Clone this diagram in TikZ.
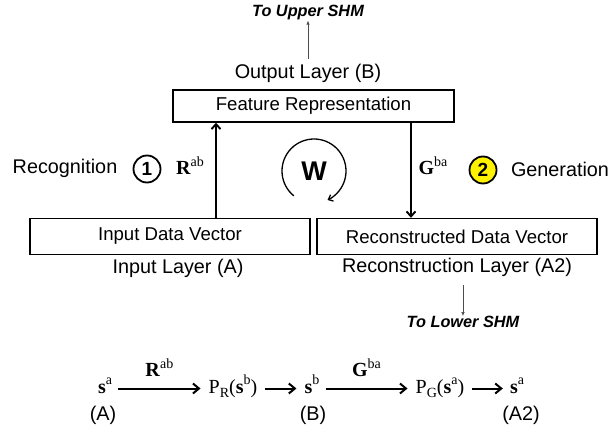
\documentclass[tikz,border=0pt]{standalone}
\usepackage{fontspec}
\usepackage{graphicx}
\setmainfont{Liberation Sans}
\newfontfamily\serf{Liberation Serif}
\usetikzlibrary{arrows.meta,calc}
\newcommand\mysup[1]{\raisebox{0.42em}{\fontsize{14pt}{14pt}\selectfont #1}}
\newcommand\mysub[1]{\raisebox{-0.22em}{\fontsize{14pt}{14pt}\selectfont #1}}
\begin{document}
\begin{tikzpicture}[x=1pt,y=-1pt,
  box/.style={draw,line width=1.4pt,inner sep=0pt,font=\fontsize{18.6pt}{19pt}\selectfont},
  lbl/.style={inner sep=0pt,font=\fontsize{19.8pt}{20pt}\selectfont},
  shm/.style={inner sep=0pt,font=\fontsize{16.3pt}{16pt}\selectfont\bfseries\itshape},
  thin/.style={draw=black!70,line width=0.7pt,-{Latex[length=4pt,width=3.5pt]}},
  big/.style={line width=1.9pt,-{Straight Barb[length=5pt,width=9pt,line width=1.9pt]}},
  num/.style={circle,draw,line width=1.8pt,minimum size=27pt,inner sep=0pt,font=\fontsize{19pt}{19pt}\selectfont\bfseries},
  fm/.style={inner sep=0pt,text height=14pt,text depth=5pt,font=\fontsize{20pt}{20pt}\selectfont\serf},
  fa/.style={line width=2pt,-{Straight Barb[length=6pt,width=10pt,line width=2pt]}}
]
\useasboundingbox (0,0) rectangle (613,430);

% top
\node[shm] (up) at (308,13) {To Upper SHM};
\node[lbl] (outl) at (308,73) {Output Layer (B)};
\node[box,minimum width=281pt,minimum height=32pt] (fr) at (313.5,106) {Feature Representation};

% boxes
\node[box,minimum width=280pt,minimum height=36pt] (idv) at (170,236.5) {Input Data Vector};
\node[box,minimum width=280pt,minimum height=36pt] (rdv) at (457,236.5) {Reconstructed Data Vector};
\node[lbl] (inl) at (178,268) {Input Layer (A)};
\node[lbl] (recl) at (457,267) {Reconstruction Layer (A2)};
\node[shm] (low) at (463,322) {To Lower SHM};

% connectors
\draw[thin] (outl.north -| up) ++(0,-5) -- (up.south);
\draw[thin] ([yshift=-9pt]recl.south -| low) -- (low.north);
\draw[big] (idv.north -| 216,0) -- (216,0 |- fr.south);
\draw[big] (fr.south -| 411,0) -- (411,0 |- rdv.north);

% labels
\node[lbl] (rec) at (65,168) {Recognition};
\node[num] (n1) at (147,169) {1};
\node[fm] (rab) at (190,170) {\textbf{R}\mysup{ab}};
\node[fm] (gba) at (433,170) {\textbf{G}\mysup{ba}};
\node[num,fill=yellow] (n2) at (483,170) {2};
\node[lbl] (gen) at (560,169) {Generation};

% W loop
\coordinate (wc) at (314,171);
\node[inner sep=0pt,font=\fontsize{27pt}{27pt}\selectfont\bfseries] (w) at (wc) {W};
\draw[line width=1.3pt,-{Straight Barb[length=4pt,width=7pt,line width=1.3pt]}] ($(wc)+(231:32pt)$) arc[start angle=231,end angle=-65,radius=32pt];

% formula
\node[fm] (sa1) at (105,388.5) {\textbf{s}\mysup{a}};
\node[fm] (pr) at (233,388.5) {P\mysub{R}(\textbf{s}\mysup{b})};
\node[fm] (sb) at (312,388.5) {\textbf{s}\mysup{b}};
\node[fm] (pg) at (440,388.5) {P\mysub{G}(\textbf{s}\mysup{a})};
\node[fm] (sa2) at (517,388.5) {\textbf{s}\mysup{a}};
\draw[fa] ([xshift=6pt]sa1.east) -- ([xshift=-8pt]pr.west) node[midway,above=6pt,fm] (rl) {\textbf{R}\mysup{ab}};
\draw[fa] ([xshift=8pt]pr.east) -- ([xshift=-8pt]sb.west);
\draw[fa] ([xshift=6pt]sb.east) -- ([xshift=-8pt]pg.west) node[midway,above=6pt,fm] (gl) {\textbf{G}\mysup{ba}};
\draw[fa] ([xshift=8pt]pg.east) -- ([xshift=-7pt]sa2.west);
\node[lbl] (la) at (103,415) {(A)};
\node[lbl] (lb) at (313,415) {(B)};
\node[lbl] (la2) at (521,415) {(A2)};
\end{tikzpicture}
\end{document}
